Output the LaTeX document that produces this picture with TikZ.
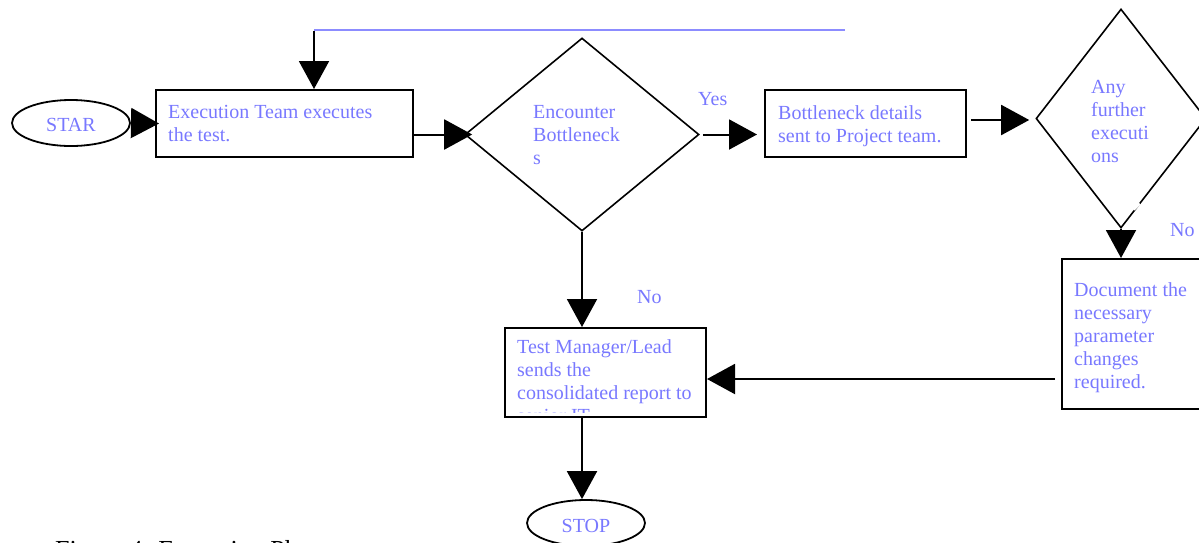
\documentclass[tikz,border=0pt]{standalone}
\usepackage{fontspec}
\setmainfont{Liberation Serif}
\usetikzlibrary{arrows.meta,shapes.geometric}
\definecolor{txtblue}{RGB}{120,120,255}
\definecolor{lineblue}{RGB}{140,140,255}
\tikzset{
  box/.style={draw=black, line width=2pt, rectangle, inner sep=0pt},
  decision/.style={draw=black, line width=1.6pt, diamond, inner sep=0pt},
  terminal/.style={draw=black, line width=1.8pt, ellipse, inner sep=0pt,
    minimum width=118pt, minimum height=46pt},
  lbl/.style={text=txtblue, inner sep=0pt, align=left,
    font=\fontsize{20}{23}\selectfont},
  arr/.style={draw=black, line width=2pt,
    -{Triangle[length=28pt,width=30pt]}},
}
\begin{document}
\begin{tikzpicture}[x=1pt,y=-1pt]
\useasboundingbox (0,0) rectangle (1199,542);
\clip (0,0) rectangle (1199,542);

% process boxes
\node[box, minimum width=257pt, minimum height=67pt] (exec) at (284.5,123.5) {};
\node[box, minimum width=201pt, minimum height=67pt] (sent) at (865.5,123.5) {};
\node[box, minimum width=140pt, minimum height=150pt] (doc) at (1132,334) {};
\node[box, minimum width=201pt, minimum height=89pt] (report) at (605.5,372.5) {};

% decisions
\node[decision, minimum width=234pt, minimum height=193pt] (enc) at (582,134.5) {};
\node[decision, minimum width=170pt, minimum height=219pt] (further) at (1121,118.5) {};

% start / stop
\node[terminal] (start) at (71,123) {};
\node[terminal] (stop) at (586,523) {};

% texts
\node[lbl, anchor=base] (starttxt) at (start.center |- 0,131) {STAR};
\node[lbl, anchor=base] (stoptxt) at (586,532) {STOP};
\node[lbl, anchor=north west] (exectxt) at (168,105) {Execution Team executes\\the test.};
\node[lbl, anchor=north west] (enctxt) at (533,105) {Encounter\\Bottleneck\\s};
\node[lbl, anchor=north west] (senttxt) at (778,105) {Bottleneck details\\sent to Project team.};
\node[lbl, anchor=north west] (furthertxt) at (1091,80) {Any\\further\\executi\\ons};
\node[lbl, anchor=north west] (doctxt) at (1074,282.5) {Document the\\necessary\\parameter\\changes\\required.};
\begin{scope}
  \clip (506,329) rectangle (705,412);
  \node[lbl, anchor=north west] (reporttxt) at (517,339.5)
    {Test Manager/Lead\\sends the\\consolidated report to\\senior IT.};
\end{scope}

% branch labels
\node[lbl, anchor=base west] (yes) at (698,105) {Yes};
\node[lbl, anchor=base west] (noA) at (637,303) {No};
\node[lbl, anchor=base west] (noB) at (1170,236) {No};

% caption
\node[anchor=base west, inner sep=0pt, font=\fontsize{26}{30}\selectfont] (cap)
  at (55,558) {Figure 4: Execution Phase};

% connectors
\coordinate (fbend) at (845,30);
\coordinate (fbcorner) at (314,30);
\draw[lineblue, line width=1.5pt] (fbend) -- (fbcorner);
\draw[arr] ([yshift=-1pt]fbcorner) -- (fbcorner |- exec.north);

\draw[arr] (start.east) -- ([xshift=4pt]exec.west);
\draw[arr] (exec.east |- enc.west) -- ([xshift=8pt]enc.west);
\draw[arr] ([xshift=3pt]enc.east) -- ([xshift=-7pt]sent.west |- enc.east);
\coordinate (lvlA) at (0,120);
\draw[arr] ([xshift=4pt]sent.east |- lvlA) -- ([xshift=-6pt]further.west |- lvlA);
\draw[arr] (further.south) -- (further.south |- doc.north);
\coordinate (lvlB) at (0,379);
\draw[arr] ([xshift=-6pt]doc.west |- lvlB) -- (report.east |- lvlB);
\draw[arr] (enc.south) -- (enc.south |- report.north);
\draw[arr] (enc.south |- report.south) -- (enc.south |- stop.north);

% small break in the lower edge of the second decision
\draw[white, line width=3pt] (1139.5,203.5) -- (1133.5,209.5);
\end{tikzpicture}
\end{document}
